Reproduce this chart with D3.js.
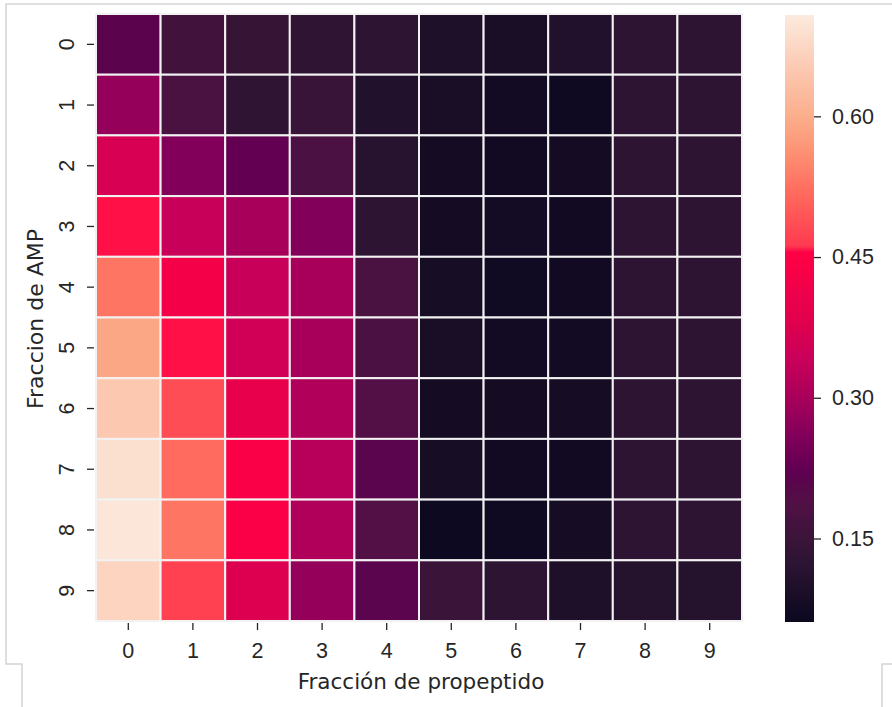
<!DOCTYPE html>
<html>
<head>
<meta charset="utf-8">
<script src="https://cdn.jsdelivr.net/npm/d3@7"></script>
<style>
  body { margin: 0; background: #fff; }
  svg { display: block; font-family: 'DejaVu Sans', sans-serif; }
  .tick text { fill: #262626; }
  .tick line { stroke: #262626; stroke-width: 1.3; }
</style>
</head>
<body>
<svg id="chart" width="892" height="707"></svg>
<script>
// categories
const xLabels = ['0', '1', '2', '3', '4', '5', '6', '7', '8', '9']
const yLabels = ['0', '1', '2', '3', '4', '5', '6', '7', '8', '9']
// one row per "Fraccion de AMP", one column per "Fracción de propeptido"
const row0 = [0.215, 0.160, 0.140, 0.130, 0.125, 0.100, 0.090, 0.105, 0.125, 0.125]
const row1 = [0.280, 0.175, 0.130, 0.145, 0.105, 0.090, 0.075, 0.068, 0.125, 0.125]
const row2 = [0.365, 0.260, 0.225, 0.180, 0.115, 0.080, 0.072, 0.080, 0.125, 0.125]
const row3 = [0.457, 0.340, 0.300, 0.260, 0.125, 0.080, 0.078, 0.072, 0.125, 0.125]
const row4 = [0.530, 0.425, 0.340, 0.300, 0.175, 0.085, 0.070, 0.072, 0.125, 0.125]
const row5 = [0.590, 0.457, 0.355, 0.300, 0.180, 0.090, 0.075, 0.075, 0.125, 0.125]
const row6 = [0.650, 0.485, 0.400, 0.310, 0.190, 0.080, 0.080, 0.082, 0.125, 0.125]
const row7 = [0.690, 0.520, 0.440, 0.320, 0.210, 0.085, 0.072, 0.072, 0.125, 0.125]
const row8 = [0.700, 0.530, 0.445, 0.310, 0.190, 0.065, 0.068, 0.082, 0.125, 0.125]
const row9 = [0.670, 0.470, 0.375, 0.280, 0.210, 0.150, 0.125, 0.100, 0.110, 0.110]
const values = [row0, row1, row2, row3, row4, row5, row6, row7, row8, row9]
const cbarTicks = [0.15, 0.30, 0.45, 0.60]
const vmin = 0.061
const vmax = 0.708

// rocket-like colour map, as it looks in the picture
const cmapDomain = [0.061, 0.09, 0.12, 0.15, 0.19, 0.22, 0.26, 0.30, 0.34, 0.38, 0.42, 0.455, 0.462, 0.50, 0.53, 0.57, 0.60, 0.65, 0.708]
const cmapRange = ['#0b0820', '#1a0e26', '#2a1431', '#3b1439', '#521046', '#5e0050', '#82005a', '#a8005a',
  '#c8005a', '#e0004e', '#f2004a', '#ff0045', '#ff3a50', '#ff5a58', '#ff7563', '#fc9878', '#fbae8c', '#fcc8b0', '#fbebdf']

const svg = d3.select('#chart')
const color = d3.scaleLinear().domain(cmapDomain).range(cmapRange).clamp(true)

const x = d3.scaleBand().domain(xLabels).range([96, 742])
const y = d3.scaleBand().domain(yLabels).range([14, 621])

// page frame of the screenshot
const frame = svg.append('g')
  .attr('fill', 'none')
  .attr('stroke', '#d4d4d4')
  .attr('stroke-width', 1.5)
frame.append('path').attr('d', 'M892,4 H6 V664 H22 V707')
frame.append('path').attr('d', 'M892,664 H882 V707')

// cells
let cells = []
values.forEach((row, i) => row.forEach((v, j) => cells.push({ r: yLabels[i], c: xLabels[j], v })))
svg.append('g').selectAll('rect')
  .data(cells)
  .join('rect')
  .attr('x', d => x(d.c))
  .attr('y', d => y(d.r))
  .attr('width', x.bandwidth())
  .attr('height', y.bandwidth())
  .attr('fill', d => color(d.v))
  .attr('stroke', '#f2f2f2')
  .attr('stroke-width', 2)

// x axis
let xg = svg.append('g')
  .attr('transform', 'translate(0,623)')
  .call(d3.axisBottom(x).tickSize(7).tickSizeOuter(0))
xg.select('.domain').remove()
xg.selectAll('.tick text')
  .attr('y', 35)
  .attr('dy', 0)
  .style('font-size', '21.5px')

// y axis
let yg = svg.append('g')
  .attr('transform', 'translate(94,0)')
  .call(d3.axisLeft(y).tickSize(7).tickSizeOuter(0))
yg.select('.domain').remove()
yg.selectAll('.tick text')
  .attr('x', null)
  .attr('dy', 0)
  .attr('text-anchor', 'middle')
  .attr('transform', 'translate(-20,0) rotate(-90)')
  .style('font-size', '21.5px')

// axis titles
svg.append('text')
  .attr('x', 421)
  .attr('y', 689)
  .attr('text-anchor', 'middle')
  .attr('fill', '#262626')
  .style('font-size', '21.5px')
  .text('Fracción de propeptido')
svg.append('text')
  .attr('transform', 'translate(43,319) rotate(-90)')
  .attr('text-anchor', 'middle')
  .attr('fill', '#262626')
  .style('font-size', '22px')
  .text('Fraccion de AMP')

// colour bar
const cb = d3.scaleLinear().domain([vmin, vmax]).range([622, 15])
const grad = svg.append('defs').append('linearGradient')
  .attr('id', 'cbar-grad')
  .attr('x1', 0).attr('y1', 1).attr('x2', 0).attr('y2', 0)
grad.selectAll('stop')
  .data(cmapDomain)
  .join('stop')
  .attr('offset', d => (d - vmin) / (vmax - vmin))
  .attr('stop-color', d => color(d))
svg.append('rect')
  .attr('x', 785)
  .attr('y', cb(vmax))
  .attr('width', 29)
  .attr('height', cb(vmin) - cb(vmax))
  .attr('fill', 'url(#cbar-grad)')

let cg = svg.append('g')
  .attr('transform', 'translate(814,0)')
  .call(d3.axisRight(cb).tickValues(cbarTicks).tickFormat(d3.format('.2f')).tickSize(7).tickPadding(11))
cg.select('.domain').remove()
cg.selectAll('.tick text')
  .style('font-size', '21.5px')
</script>
</body>
</html>
